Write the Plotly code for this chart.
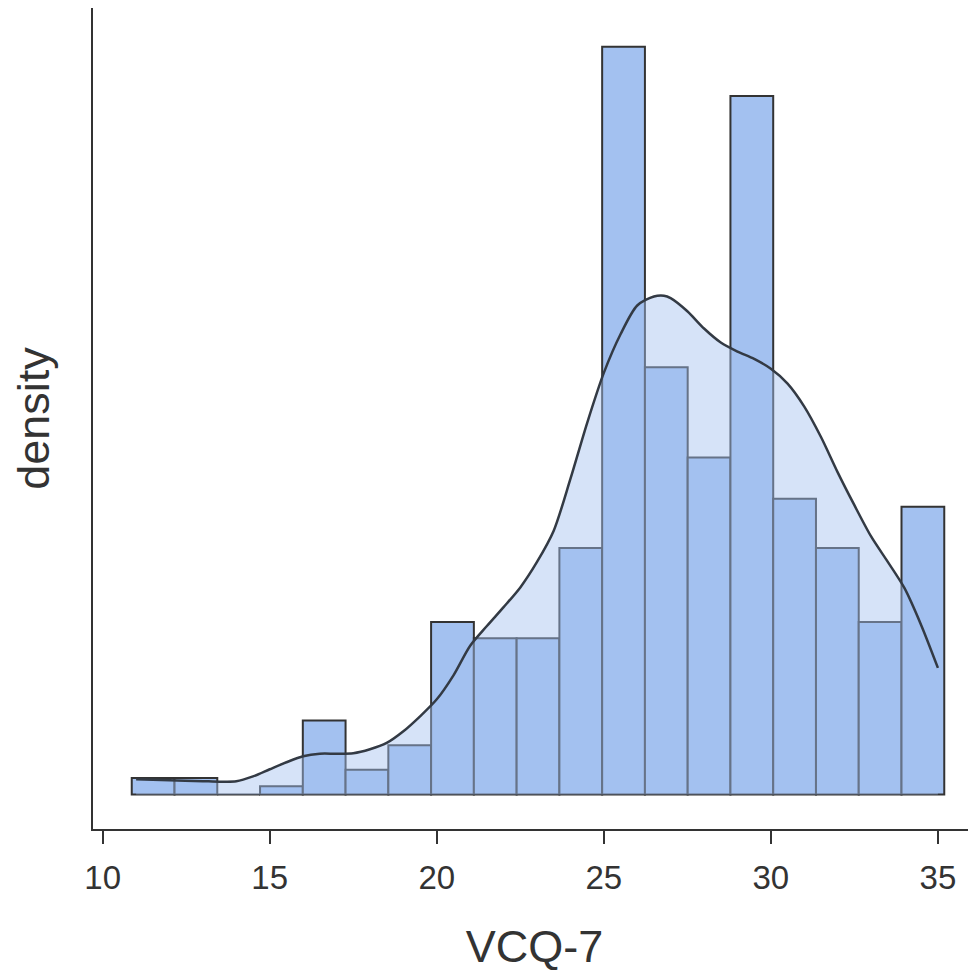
import plotly.graph_objects as go

# ---- data ----
bin_start = 10.87
bin_width = 1.28
counts = [2, 2, 0, 1, 9, 3, 6, 21, 19, 19, 30, 91, 52, 41, 85, 36, 30, 21, 35]

kde_x = [11.0, 12.0, 13.0, 13.5, 14.0, 14.5, 15.0, 15.5, 16.0, 16.5, 17.0, 17.5,
         18.0, 18.5, 19.0, 19.5, 20.0, 20.5, 21.0, 21.5, 22.0, 22.5, 23.0, 23.5,
         24.0, 24.5, 25.0, 25.5, 26.0, 26.5, 26.8, 27.0, 27.5, 28.0, 28.5, 29.0,
         29.5, 30.0, 30.5, 31.0, 31.5, 32.0, 32.5, 33.0, 33.5, 34.0, 34.5, 35.0]
# density curve expressed on the count scale (count per bin)
kde_count = [1.86, 1.74, 1.62, 1.56, 1.6, 2.2, 3.07, 3.92, 4.65, 4.96, 4.96, 5.02,
             5.5, 6.27, 7.69, 9.51, 11.58, 14.5, 18.1, 20.5, 22.8, 25.2, 28.3, 32.1,
             38.4, 45.2, 51.3, 56.0, 59.5, 60.6, 60.7, 60.4, 58.8, 56.7, 55.0, 53.9,
             53.0, 51.8, 50.0, 47.2, 43.5, 39.2, 35.2, 31.4, 28.3, 25.1, 20.6, 15.4]

n_total = sum(counts)
scale = n_total * bin_width
centers = [bin_start + bin_width * (i + 0.5) for i in range(len(counts))]
dens = [c / scale for c in counts]
kde_y = [c / scale for c in kde_count]

font = "Liberation Sans, Arial, sans-serif"
txt = "#333333"

fig = go.Figure()
fig.add_trace(go.Bar(
    x=centers, y=dens, width=bin_width,
    marker=dict(color="rgb(163,193,240)", line=dict(color="#333333", width=2)),
    hoverinfo="skip",
))
fig.add_trace(go.Scatter(
    x=kde_x, y=kde_y, mode="lines", fill="tozeroy",
    fillcolor="rgba(163,193,240,0.45)",
    line=dict(color="#333a44", width=2.5, shape="spline", smoothing=0.8),
    hoverinfo="skip",
))

fig.update_layout(
    width=968, height=967,
    margin=dict(l=85, r=0, t=0, b=146),
    paper_bgcolor="white", plot_bgcolor="white",
    showlegend=False,
    font=dict(family=font, color=txt),
    xaxis=dict(
        range=[9.71, 36.14], tickvals=[10, 15, 20, 25, 30, 35],
        showline=True, linecolor="#333333", linewidth=2,
        ticks="outside", ticklen=13, tickwidth=2, tickcolor="#333333",
        tickfont=dict(size=33, color=txt, family=font),
        ticklabelstandoff=5,
        showgrid=False, zeroline=False, automargin=False,
        title=dict(text="VCQ-7", font=dict(size=45, color=txt, family=font), standoff=36),
    ),
    yaxis=dict(
        range=[-4.2 / scale, 95.7 / scale],
        showline=True, linecolor="#333333", linewidth=2,
        showticklabels=False, ticks="",
        showgrid=False, zeroline=False, automargin=False,
        title=dict(text="density", font=dict(size=45, color=txt, family=font), standoff=31),
    ),
)

fig.write_html("out.html")
